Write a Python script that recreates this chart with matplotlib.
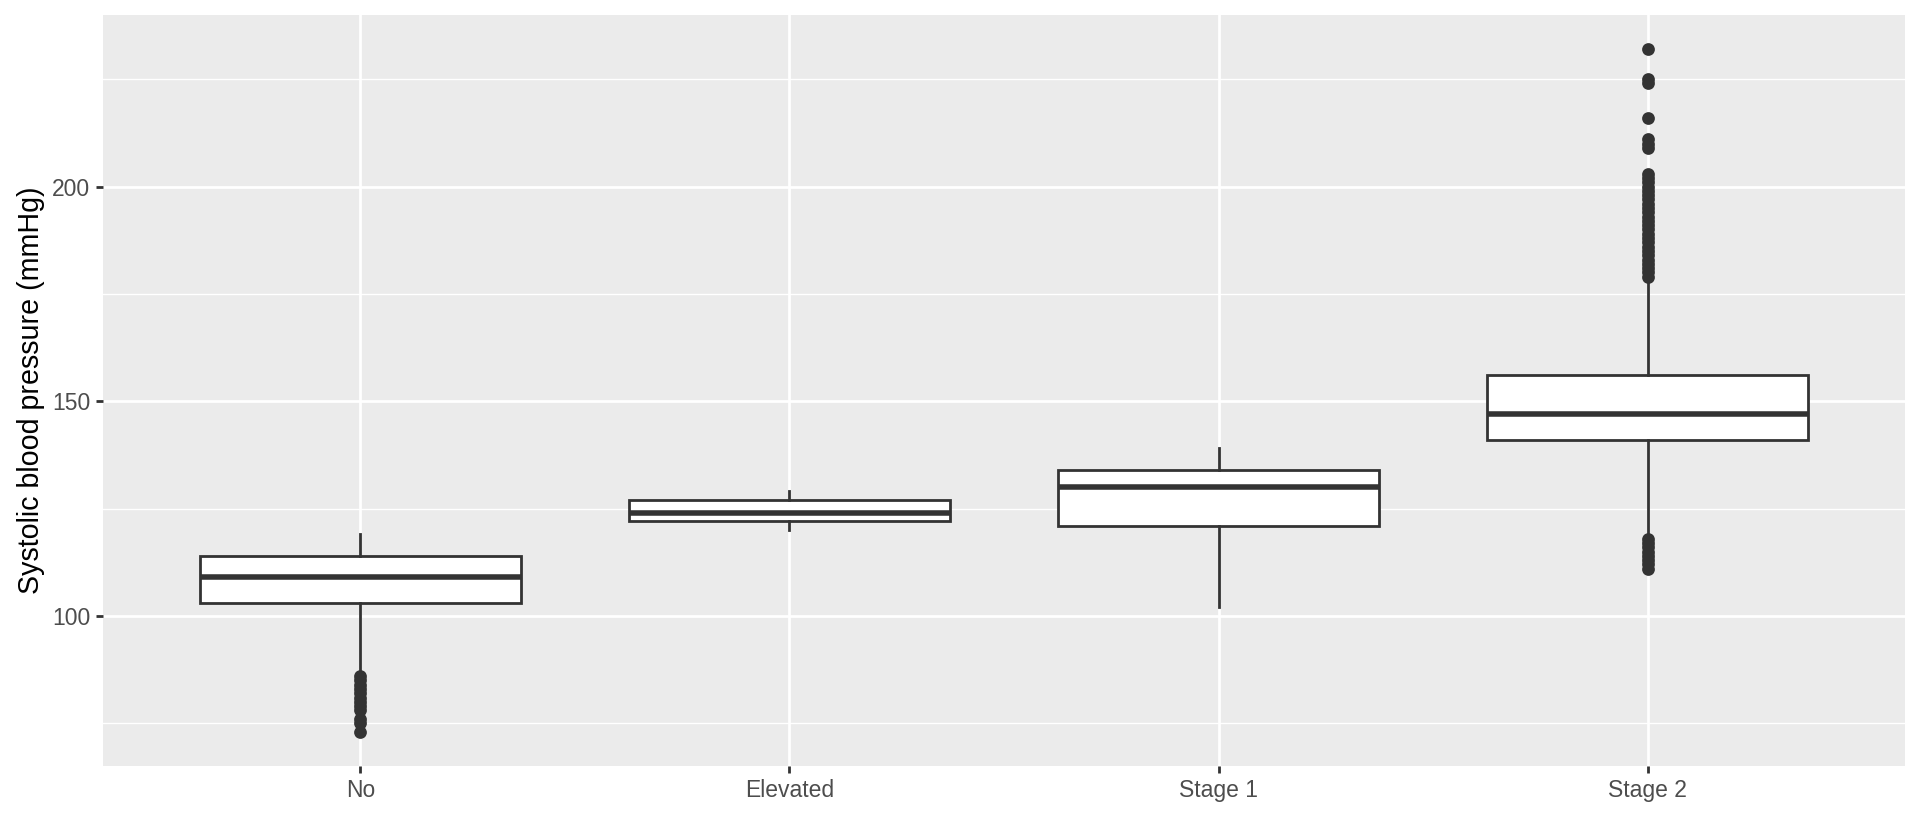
import matplotlib.pyplot as plt

# blood pressure category boxplot
categories = ["No", "Elevated", "Stage 1", "Stage 2"]
whisker_low = [87, 120, 102, 119]
q1 = [103, 122, 121, 141]
median = [109, 124, 130, 147]
q3 = [114, 127, 134, 156]
whisker_high = [119, 129, 139, 178]

outliers_no = [86, 85, 84, 83, 82, 81, 80, 79, 78, 76, 75, 73]
outliers_elevated = []
outliers_stage1 = []
outliers_stage2 = [111, 112, 113, 114, 115, 116, 117, 118,
                   179, 180, 181, 182, 183, 184, 185, 186, 187, 188, 189, 190,
                   191, 192, 193, 194, 195, 196, 197, 198, 199, 200, 201, 202,
                   203, 209, 210, 211, 216, 224, 225, 232]
outliers = [outliers_no, outliers_elevated, outliers_stage1, outliers_stage2]

ylabel = "Systolic blood pressure (mmHg)"

plt.rcParams["font.family"] = ["Liberation Sans", "DejaVu Sans"]

DPI = 187.5
fig = plt.figure(figsize=(1920 / DPI, 816 / DPI), dpi=DPI)
ax = fig.add_axes([103 / 1920, 50 / 816, 1802 / 1920, 751 / 816])
ax.set_facecolor("#EBEBEB")

stats = []
for i, cat in enumerate(categories):
    stats.append({
        "label": cat,
        "whislo": whisker_low[i],
        "q1": q1[i],
        "med": median[i],
        "q3": q3[i],
        "whishi": whisker_high[i],
        "fliers": outliers[i],
    })

dark = "#333333"
ax.bxp(
    stats,
    positions=range(1, len(categories) + 1),
    widths=0.75,
    showcaps=False,
    patch_artist=True,
    boxprops=dict(facecolor="white", edgecolor=dark, linewidth=1.07),
    whiskerprops=dict(color=dark, linewidth=1.07),
    medianprops=dict(color=dark, linewidth=2.13, solid_capstyle="butt"),
    flierprops=dict(marker="o", markerfacecolor=dark, markeredgecolor="none",
                    markersize=4.9),
    zorder=3,
)

# ggplot-like limits (5% expansion on y, 0.6 on discrete x)
all_vals = whisker_low + whisker_high + [v for o in outliers for v in o]
lo, hi = min(all_vals), max(all_vals)
pad = 0.05 * (hi - lo)
ax.set_ylim(lo - pad, hi + pad)
ax.set_xlim(0.4, len(categories) + 0.6)

ax.set_yticks([100, 150, 200])
ax.set_yticks([75, 125, 175, 225], minor=True)
ax.grid(which="major", color="white", linewidth=1.07, zorder=0)
ax.grid(which="minor", axis="y", color="white", linewidth=0.53, zorder=0)
ax.set_axisbelow(True)

for s in ax.spines.values():
    s.set_visible(False)

ax.tick_params(which="major", length=2.75, width=1.07, color=dark,
               labelsize=8.8, labelcolor="#4D4D4D", pad=2.2)
ax.tick_params(which="minor", length=0)
ax.set_ylabel(ylabel, fontsize=11, color="black", labelpad=2.75)
ax.set_xlabel("")

fig.savefig("out.png", dpi=DPI, facecolor="white")
